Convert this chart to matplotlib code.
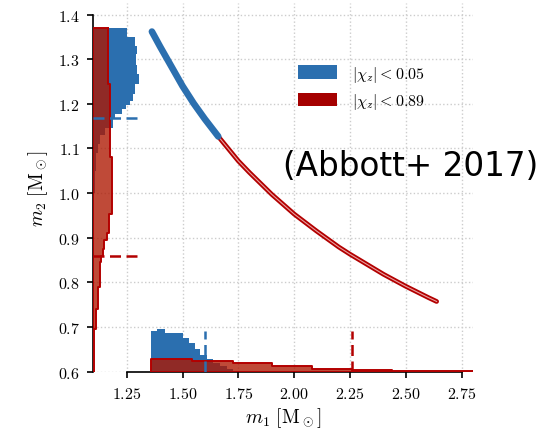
import matplotlib

matplotlib.use('Agg')
from matplotlib import pyplot as plt
from matplotlib.patches import Patch
import numpy as np

plt.rcParams['font.family'] = 'serif'
plt.rcParams['font.serif'] = ['cmr10', 'DejaVu Serif']
plt.rcParams['mathtext.fontset'] = 'cm'
plt.rcParams['axes.formatter.use_mathtext'] = True

# m1-m2 curve (low spin part, then high spin part)
curve_lo_m1 = [1.363, 1.40, 1.45, 1.50, 1.55, 1.60, 1.66]
curve_lo_m2 = [1.362, 1.328, 1.284, 1.240, 1.201, 1.166, 1.127]
curve_hi_m1 = [1.66, 1.75, 1.80, 1.90, 2.00, 2.10, 2.20, 2.25, 2.40, 2.50, 2.60, 2.638]
curve_hi_m2 = [1.127, 1.072, 1.046, 0.997, 0.953, 0.915, 0.879, 0.863, 0.818, 0.791, 0.766, 0.757]

# m2 marginal (drawn sideways from m1 = 1.1)
m2_lo_edges = [1.00, 1.05, 1.09, 1.11, 1.13, 1.145, 1.155, 1.1677, 1.1774, 1.1886, 1.1975,
               1.207, 1.222, 1.245, 1.267, 1.286, 1.312, 1.3305, 1.349, 1.3695]
m2_lo_hist = [0.008, 0.012, 0.021, 0.030, 0.053, 0.090, 0.090, 0.098, 0.128, 0.147,
              0.165, 0.177, 0.187, 0.206, 0.195, 0.192, 0.197, 0.187, 0.150]
m2_hi_edges = [0.60, 0.695, 0.74, 0.79, 0.845, 0.86, 0.875, 0.895, 0.91, 0.953, 1.0, 1.08, 1.245, 1.3695]
m2_hi_hist = [0.005, 0.012, 0.022, 0.030, 0.037, 0.043, 0.050, 0.060, 0.072, 0.086, 0.083, 0.077, 0.065]

# m1 marginal (drawn upward from m2 = 0.6)
m1_lo_edges = [1.359, 1.387, 1.422, 1.504, 1.530, 1.556, 1.578, 1.608, 1.635, 1.668, 1.698, 1.727, 1.75]
m1_lo_hist = [0.090, 0.095, 0.086, 0.075, 0.064, 0.051, 0.038, 0.027, 0.020, 0.012, 0.006, 0.002]
m1_hi_edges = [1.359, 1.541, 1.727, 1.899, 2.078, 2.258, 2.437, 2.616, 2.80]
m1_hi_hist = [0.027, 0.023, 0.018, 0.013, 0.006, 0.0025, 0.0012, 0.0005]

# 90% limits (dashed markers)
m2_lim_lo, m2_lim_hi = 1.168, 0.86
m1_lim_lo, m1_lim_hi = 1.60, 2.258

labels = [r'$|\chi_z| < 0.05$', r'$|\chi_z| < 0.89$']

blue = '#2b6faf'
red_face = (0.68, 0.09, 0.0, 0.78)
red_edge = '#b30000'
red_legend = '#a50000'

x0, y0 = 1.1, 0.6


def step_hist(ax, edges, hist, base, sideways, face, edge=None, z=2):
    """Filled step histogram sitting on a baseline inside the main axes"""
    edges = np.asarray(edges)
    top = np.append(hist, hist[-1]) + base
    if sideways:
        ax.fill_betweenx(edges, base, top, step='post', facecolor=face,
                         linewidth=0, zorder=z)
    else:
        ax.fill_between(edges, base, top, step='post', facecolor=face,
                        linewidth=0, zorder=z)
    if edge is not None:
        # outline along the outer edge only
        outline = np.concatenate([[base], top])
        ends = np.concatenate([[edges[0]], edges])
        if sideways:
            ax.step(outline, ends, where='pre', color=edge, lw=1.4, zorder=z)
            ax.plot([base, top[-1]], [edges[-1], edges[-1]], color=edge, lw=1.4, zorder=z)
            ax.plot([base, base], [edges[0], edges[-1]], color=edge, lw=1.4, zorder=z)
        else:
            ax.step(ends, outline, where='post', color=edge, lw=1.4, zorder=z)
            ax.plot([edges[-1], edges[-1]], [base, top[-1]], color=edge, lw=1.4, zorder=z)
            ax.plot([edges[0], edges[-1]], [base, base], color=edge, lw=1.4, zorder=z)


fig = plt.figure(figsize=(5.51, 4.31), dpi=100)
ax = fig.add_axes([0.1691, 0.1336, 0.689, 0.856])

# marginal histograms
step_hist(ax, m2_lo_edges, m2_lo_hist, x0, True, blue, z=2)
step_hist(ax, m1_lo_edges, m1_lo_hist, y0, False, blue, z=2)
step_hist(ax, m2_hi_edges, m2_hi_hist, x0, True, red_face, red_edge, z=3)
step_hist(ax, m1_hi_edges, m1_hi_hist, y0, False, red_face, red_edge, z=3)

# dashed limit markers
dash = (4.4, 2.2)
ax.plot([x0, 1.295], [m2_lim_lo, m2_lim_lo], color=blue, lw=1.8, dashes=dash, zorder=5)
ax.plot([x0, 1.295], [m2_lim_hi, m2_lim_hi], color=red_edge, lw=1.8, dashes=dash, zorder=5)
ax.plot([m1_lim_lo, m1_lim_lo], [y0, 0.69], color=blue, lw=1.8, dashes=dash, zorder=5)
ax.plot([m1_lim_hi, m1_lim_hi], [y0, 0.69], color=red_edge, lw=1.8, dashes=dash, zorder=5)

# the m1-m2 curve
ax.plot(curve_hi_m1, curve_hi_m2, color=red_edge, lw=3.4, solid_capstyle='round', zorder=4)
ax.plot(curve_hi_m1, curve_hi_m2, color='#e9a0a0', lw=0.8, zorder=4)
ax.plot(curve_lo_m1, curve_lo_m2, color=blue, lw=4.8, solid_capstyle='round', zorder=4)

ax.set_xlim(1.1, 2.8)
ax.set_ylim(0.598, 1.425)
ax.set_xticks([1.25, 1.5, 1.75, 2.0, 2.25, 2.5, 2.75])
ax.set_yticks([0.6, 0.7, 0.8, 0.9, 1.0, 1.1, 1.2, 1.3, 1.4])
ax.grid(True, linestyle=':', color='#cccccc', linewidth=1.0, zorder=0)
ax.set_axisbelow(True)

for side in ['top', 'right']:
    ax.spines[side].set_visible(False)
ax.spines['left'].set_bounds(0.6, 1.4)
ax.spines['bottom'].set_bounds(1.25, 2.75)
for side in ['left', 'bottom']:
    ax.spines[side].set_linewidth(1.2)
ax.tick_params(length=4.5, width=1.2, labelsize=11.5, pad=5)

ax.set_xlabel(r'$m_1\ [\mathrm{M}_\odot]$', fontsize=14, labelpad=3)
ax.set_ylabel(r'$m_2\ [\mathrm{M}_\odot]$', fontsize=14, labelpad=6)

handles = [Patch(facecolor=blue), Patch(facecolor=red_legend)]
ax.legend(handles, labels, loc='upper left', bbox_to_anchor=(0.5408, 0.8503),
          bbox_transform=fig.transFigure, frameon=False, fontsize=11.5,
          handlelength=2.45, handleheight=0.9, handletextpad=0.95,
          labelspacing=0.45, borderpad=0, borderaxespad=0)

fig.text(0.5136, 0.6148, '(Abbott+ 2017)', family='DejaVu Sans', fontsize=23.5,
         ha='left', va='center')

plt.savefig('out.png', dpi=100)
